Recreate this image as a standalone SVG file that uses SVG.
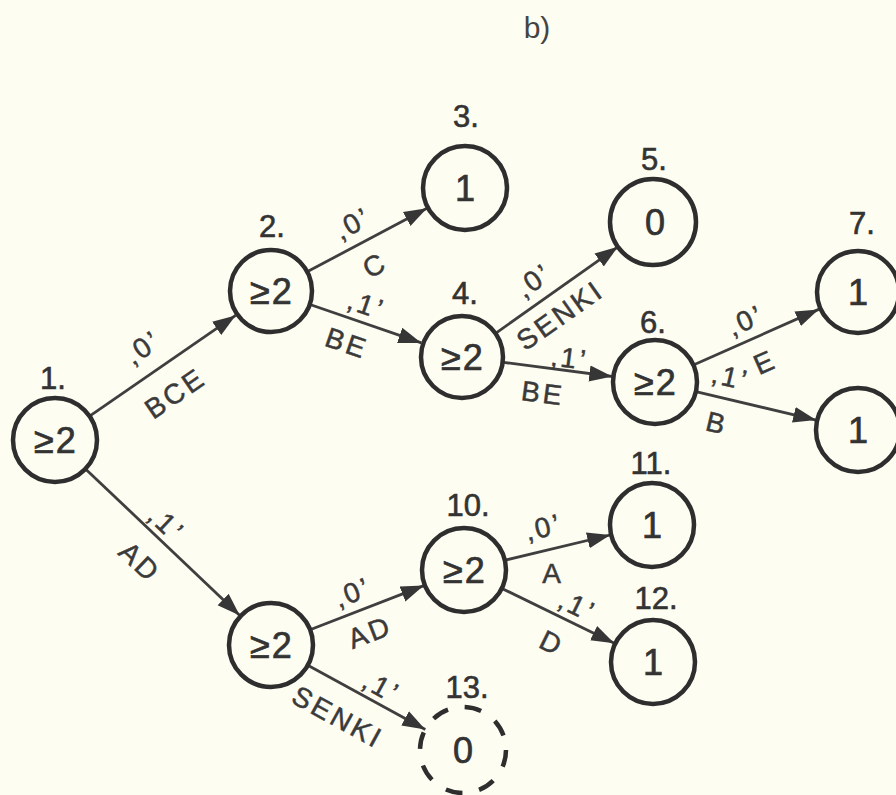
<svg xmlns="http://www.w3.org/2000/svg" width="896" height="795" viewBox="0 0 896 795">
  <defs>
    <marker id="arr" markerWidth="26" markerHeight="18" refX="23" refY="9" orient="auto" markerUnits="userSpaceOnUse">
      <path d="M0,1 L23,9 L0,17 z" fill="#363636"/>
    </marker>
    <style>
      .node circle { fill: none; stroke: #2e2e2e; stroke-width: 4.5; }
      .node .dashed { stroke-dasharray: 17 17; }
      .val { font-family: "Liberation Sans", Arial, sans-serif; font-size: 36px; fill: #333; stroke: #333; stroke-width: 0.7; text-anchor: middle; letter-spacing: 2px; }
      .num { font-family: "Liberation Sans", Arial, sans-serif; font-size: 31px; fill: #333; stroke: #333; stroke-width: 0.6; text-anchor: middle; }
      .edges line { stroke: #3f3f3f; stroke-width: 2.8; marker-end: url(#arr); }
      .lbl { font-family: "Liberation Sans", Arial, sans-serif; font-size: 28px; fill: #3a3a3a; stroke: #3a3a3a; stroke-width: 0.5; text-anchor: middle; letter-spacing: 3px; }
      .title { font-family: "Liberation Sans", Arial, sans-serif; font-size: 30px; fill: #444; text-anchor: middle; }
    </style>
  </defs>

  <rect x="0" y="0" width="896" height="795" fill="#fefdf1"/>

  <text class="title" x="537" y="38">b)</text>

  <!-- connectors -->
  <g id="edges" class="edges">
    <line x1="89.6" y1="416.1" x2="235.6" y2="315.4"/>
    <line x1="308.1" y1="271.3" x2="427.0" y2="208.2"/>
    <line x1="310.7" y1="304.7" x2="421.4" y2="342.9"/>
    <line x1="496.3" y1="332.8" x2="617.9" y2="246.8"/>
    <line x1="503.7" y1="362.4" x2="612.3" y2="376.5"/>
    <line x1="693.4" y1="365.0" x2="818.7" y2="309.4"/>
    <line x1="695.9" y1="391.7" x2="816.2" y2="420.1"/>
    <line x1="85.5" y1="468.9" x2="239.8" y2="615.4"/>
    <line x1="310.1" y1="629.8" x2="423.9" y2="585.6"/>
    <line x1="307.8" y1="665.2" x2="425.3" y2="729.4"/>
    <line x1="504.9" y1="560.2" x2="610.2" y2="535.0"/>
    <line x1="501.8" y1="588.4" x2="614.3" y2="643.2"/>

    <!-- edge labels -->
    <text class="lbl" transform="translate(143,347) rotate(-34.6)" dy="0.35em">‚0’</text>
    <text class="lbl" transform="translate(175,393) rotate(-34.6)" dy="0.35em">BCE</text>
    <text class="lbl" transform="translate(353,223) rotate(-28)" dy="0.35em">‚0’</text>
    <text class="lbl" transform="translate(375,265) rotate(-28)" dy="0.35em">C</text>
    <text class="lbl" transform="translate(367,305) rotate(19)" dy="0.35em">‚1’</text>
    <text class="lbl" transform="translate(347,343) rotate(19)" dy="0.35em">BE</text>
    <text class="lbl" transform="translate(534,280) rotate(-35.3)" dy="0.35em">‚0’</text>
    <text class="lbl" transform="translate(560,315) rotate(-35.3)" dy="0.35em">SENKI</text>
    <text class="lbl" transform="translate(570,358) rotate(7.4)" dy="0.35em">‚1’</text>
    <text class="lbl" transform="translate(543,393) rotate(7.4)" dy="0.35em">BE</text>
    <text class="lbl" transform="translate(746,320) rotate(-23.9)" dy="0.35em">‚0’</text>
    <text class="lbl" transform="translate(765,362) rotate(-23.9)" dy="0.35em">E</text>
    <text class="lbl" transform="translate(731,377) rotate(13.3)" dy="0.35em">‚1’</text>
    <text class="lbl" transform="translate(717,423) rotate(13.3)" dy="0.35em">B</text>
    <text class="lbl" transform="translate(167,524) rotate(43.5)" dy="0.35em">‚1’</text>
    <text class="lbl" transform="translate(140,562) rotate(43.5)" dy="0.35em">AD</text>
    <text class="lbl" transform="translate(353,592) rotate(-21.2)" dy="0.35em">‚0’</text>
    <text class="lbl" transform="translate(370,632) rotate(-21.2)" dy="0.35em">AD</text>
    <text class="lbl" transform="translate(382,687) rotate(28.7)" dy="0.35em">‚1’</text>
    <text class="lbl" transform="translate(338,717) rotate(28.7)" dy="0.35em">SENKI</text>
    <text class="lbl" transform="translate(544,527) rotate(-13.5)" dy="0.35em">‚0’</text>
    <text class="lbl" transform="translate(553,573)" dy="0.35em">A</text>
    <text class="lbl" transform="translate(578,606) rotate(26)" dy="0.35em">‚1’</text>
    <text class="lbl" transform="translate(552,643) rotate(26)" dy="0.35em">D</text>
  </g>

  <!-- nodes -->
  <g id="n1" class="node">
    <circle cx="55" cy="440" r="42"/>
    <text class="val" x="56" y="453">≥2</text>
    <text class="num" x="53" y="389">1.</text>
  </g>
  <g id="n2" class="node">
    <circle cx="271" cy="291" r="41"/>
    <text class="val" x="272" y="304">≥2</text>
    <text class="num" x="272" y="237">2.</text>
  </g>
  <g id="n3" class="node">
    <circle cx="465" cy="188" r="42"/>
    <text class="val" x="466" y="201">1</text>
    <text class="num" x="466" y="127">3.</text>
  </g>
  <g id="n4" class="node">
    <circle cx="462" cy="357" r="41"/>
    <text class="val" x="463" y="370">≥2</text>
    <text class="num" x="465" y="304">4.</text>
  </g>
  <g id="n5" class="node">
    <circle cx="653" cy="222" r="43"/>
    <text class="val" x="656" y="235">0</text>
    <text class="num" x="654" y="170">5.</text>
  </g>
  <g id="n6" class="node">
    <circle cx="655" cy="382" r="42"/>
    <text class="val" x="656" y="395">≥2</text>
    <text class="num" x="653" y="333">6.</text>
  </g>
  <g id="n7" class="node">
    <circle cx="858" cy="292" r="41"/>
    <text class="val" x="859" y="305">1</text>
    <text class="num" x="862" y="234">7.</text>
  </g>
  <g id="n8" class="node">
    <circle cx="858" cy="430" r="42"/>
    <text class="val" x="859" y="443">1</text>
  </g>
  <g id="n9" class="node">
    <circle cx="271" cy="645" r="42"/>
    <text class="val" x="272" y="658">≥2</text>
  </g>
  <g id="n10" class="node">
    <circle cx="464" cy="570" r="42"/>
    <text class="val" x="465" y="583">≥2</text>
    <text class="num" x="468" y="516">10.</text>
  </g>
  <g id="n11" class="node">
    <circle cx="652" cy="525" r="42"/>
    <text class="val" x="653" y="538">1</text>
    <text class="num" x="651" y="474">11.</text>
  </g>
  <g id="n12" class="node">
    <circle cx="653" cy="662" r="42"/>
    <text class="val" x="654" y="675">1</text>
    <text class="num" x="656" y="609">12.</text>
  </g>
  <g id="n13" class="node">
    <circle class="dashed" cx="463" cy="750" r="43"/>
    <text class="val" x="464" y="763">0</text>
    <text class="num" x="467" y="698">13.</text>
  </g>
</svg>
